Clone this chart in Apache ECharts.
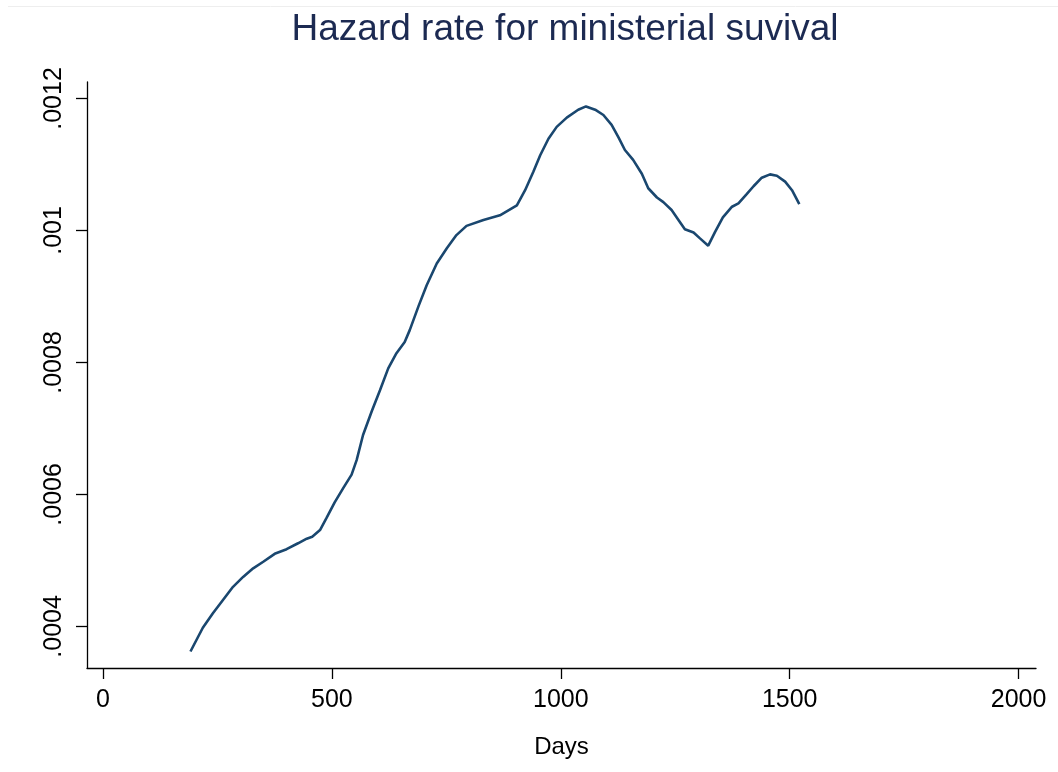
<!DOCTYPE html>
<html>
<head>
<meta charset="utf-8">
<script src="https://cdn.jsdelivr.net/npm/echarts@6/dist/echarts.min.js"></script>
<style>
html,body{margin:0;padding:0;background:#fff;}
#chart{width:1058px;height:772px;}
</style>
</head>
<body>
<div id="chart"></div>
<script>
var days = [191,218,240,262,284,306,328,350,375,401,426,445,457,474,488,506,525,543,554,568,587,605,623,641,659,670,689,707,729,751,772,794,831,867,904,922,940,955,973,991,1013,1038,1055,1075,1093,1111,1126,1140,1158,1177,1191,1210,1224,1242,1257,1271,1290,1304,1322,1337,1354,1374,1388,1406,1421,1439,1457,1472,1490,1505,1521];
var hazard = [0.000362,0.000398,0.000420,0.000440,0.000460,0.000475,0.000488,0.000498,0.000510,0.000517,0.000526,0.000533,0.000536,0.000546,0.000564,0.000588,0.000610,0.000630,0.000652,0.000690,0.000726,0.000758,0.000791,0.000814,0.000831,0.000849,0.000885,0.000917,0.000950,0.000973,0.000993,0.001007,0.001016,0.001023,0.001038,0.001061,0.001089,0.001114,0.001139,0.001157,0.001171,0.001183,0.001188,0.001183,0.001175,0.001160,0.001141,0.001122,0.001107,0.001086,0.001064,0.001050,0.001043,0.001031,0.001016,0.001002,0.000997,0.000988,0.000977,0.000998,0.001020,0.001036,0.001041,0.001055,0.001067,0.001080,0.001085,0.001083,0.001074,0.001061,0.001040];
var xTicks = [0,500,1000,1500,2000];
var xTickLabels = ['0','500','1000','1500','2000'];
var yTicks = [0.0004,0.0006,0.0008,0.0010,0.0012];
var yTickLabels = ['.0004','.0006','.0008','.001','.0012'];
var titleText = 'Hazard rate for ministerial suvival';
var xTitle = 'Days';

function pick(ticks, labels, v){
  for (var i=0;i<ticks.length;i++){ if (Math.abs(ticks[i]-v) < Math.abs(ticks[i])*1e-6+1e-12) return labels[i]; }
  return '';
}
var points = days.map(function(d,i){return [d, hazard[i]];});
var font = "'Liberation Sans', Arial, Helvetica, sans-serif";
var chart = echarts.init(document.getElementById('chart'), null, {renderer:'canvas'});
chart.setOption({
  animation:false,
  backgroundColor:'#ffffff',
  title:{
    text:titleText,
    left:560, top:6, textAlign:'center',
    textStyle:{fontFamily:font,fontSize:37,fontWeight:'normal',color:'#1c2a52'}
  },
  graphic:[{type:'line',shape:{x1:8,y1:6.5,x2:1058,y2:6.5},style:{stroke:'#eeeeee',lineWidth:1},silent:true}],
  grid:{left:87,right:22,top:82,bottom:104,containLabel:false},
  xAxis:{
    type:'value', min:-35, max:2038,
    name:xTitle, nameLocation:'middle', nameGap:67,
    nameTextStyle:{fontFamily:font,fontSize:24,color:'#000'},
    axisLine:{show:true,onZero:false,lineStyle:{color:'#000',width:1.3}},
    axisTick:{show:true,length:11,customValues:xTicks,lineStyle:{color:'#000',width:1.3}},
    axisLabel:{customValues:xTicks,margin:20,fontFamily:font,fontSize:25,color:'#000',
      formatter:function(v){return pick(xTicks,xTickLabels,v);}},
    splitLine:{show:false}
  },
  yAxis:{
    type:'value', min:0.000337, max:0.001225,
    axisLine:{show:true,onZero:false,lineStyle:{color:'#000',width:1.3}},
    axisTick:{show:true,length:11,customValues:yTicks,lineStyle:{color:'#000',width:1.3}},
    axisLabel:{customValues:yTicks,rotate:90,margin:20,fontFamily:font,fontSize:25,color:'#000',
      formatter:function(v){return pick(yTicks,yTickLabels,v);}},
    splitLine:{show:false}
  },
  series:[{
    type:'line', data:points, showSymbol:false, smooth:false,
    lineStyle:{color:'#1a476f',width:2.6}, silent:true
  }]
});
</script>
</body>
</html>
